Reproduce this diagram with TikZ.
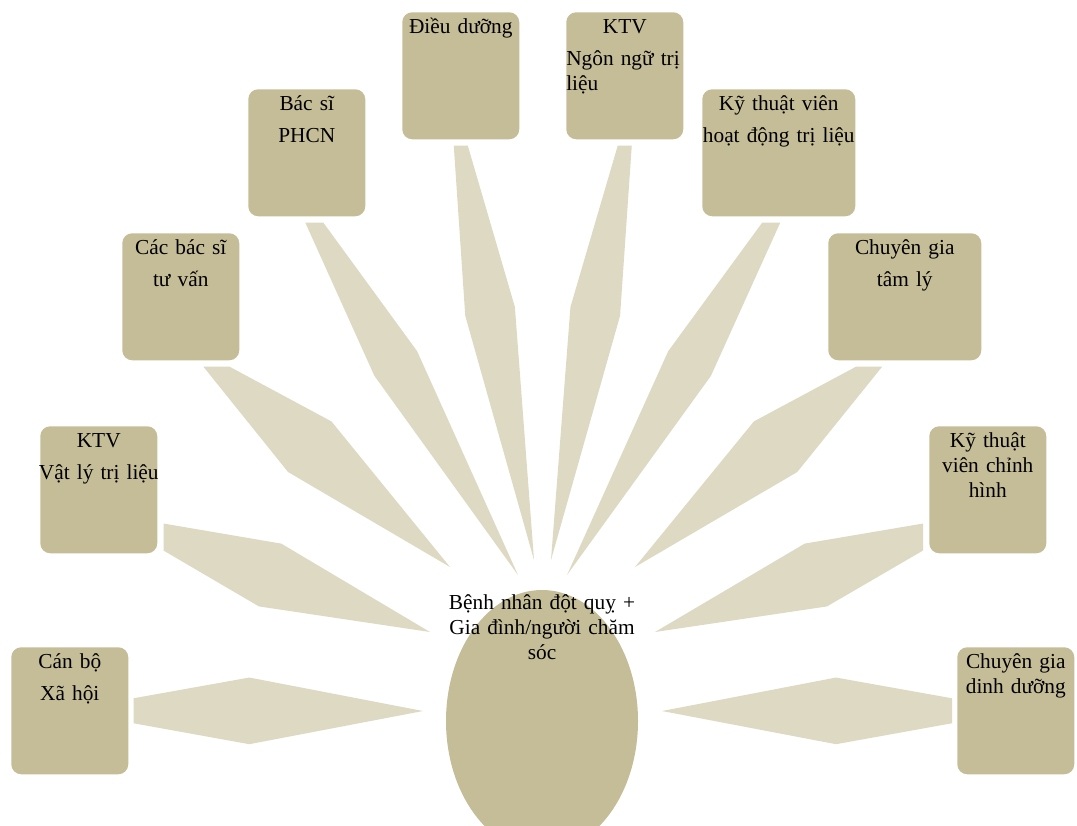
\documentclass[tikz,border=0pt]{standalone}
\usepackage{fontspec}
\setmainfont{Liberation Serif}
\usetikzlibrary{backgrounds,calc,shapes.geometric}

\definecolor{boxfill}{HTML}{C4BD97}
\definecolor{spokefill}{HTML}{DDD9C3}

% tapered band from a team box to the patient
\newcommand{\drawspoke}[4]{%
  \coordinate (#1-mid) at ($(#1-out)!0.4!(#1-in)$);
  \fill[spoke] ($(#1-out)+(#2,#3)$) -- ($(#1-mid)!#4!90:(#1-in)$) -- (#1-in)
    -- ($(#1-mid)!#4!-90:(#1-in)$) -- ($(#1-out)-(#2,#3)$) -- cycle;}

\begin{document}
\begin{tikzpicture}[
    x=0.75pt, y=-0.75pt,
    team/.style={fill=boxfill, rounded corners=7.5pt, anchor=north west, inner sep=0pt,
      text width=87.75pt, align=center, text height=15.75pt, text depth=79.5pt,
      font=\fontsize{16pt}{18.75pt}\selectfont},
    wideteam/.style={team, text width=114.75pt},
    patient/.style={ellipse, fill=boxfill, minimum width=144pt, minimum height=196.5pt, inner sep=0pt},
    patientlabel/.style={anchor=base, align=center, text width=150pt, inner sep=0pt,
      font=\fontsize{16pt}{18.75pt}\selectfont},
    spoke/.style={fill=spokefill}
  ]
    \clip (0,0) rectangle (1077,825);

    % patient in the middle
    \node[patient] (patient) at (542,721) {};
    \node[patientlabel] (patienttext) at (542,609) {Bệnh nhân đột quỵ +\\ Gia đình/người chăm\\ sóc};

    % left side
    \node[team] (cando) at (11,647) {Cán bộ\\[5.25pt] Xã hội};
    \node[team] (vltl) at (40,426) {KTV\\[5.25pt] \makebox[\linewidth][c]{Vật lý trị liệu}};
    \node[team] (tuvan) at (122,233) {Các bác sĩ\\[5.25pt] tư vấn};
    \node[team] (phcn) at (248,89) {Bác sĩ\\[5.25pt] PHCN};
    \node[team] (dieuduong) at (402,12) {Điều dưỡng};
    % right side
    \node[team] (ngonngu) at (566,12) {KTV\\[5.25pt] \makebox[\linewidth][s]{Ngôn ngữ trị}\\ \makebox[\linewidth][l]{liệu}};
    \node[wideteam] (hoatdong) at (702,89) {Kỹ thuật viên\\[5.25pt] hoạt động trị liệu};
    \node[wideteam] (tamly) at (828,233) {Chuyên gia\\[5.25pt] tâm lý};
    \node[team] (chinhhinh) at (929,426) {Kỹ thuật\\ viên chỉnh\\ hình};
    \node[team] (dinhduong) at (957,647) {Chuyên gia\\ dinh dưỡng};

    % band ends
    \coordinate (cando-out) at ([shift={(5,0)}]cando.east);
    \coordinate (vltl-out) at ([shift={(6,-16.5)}]vltl.south east);
    \coordinate (tuvan-out) at ([shift={(35.5,6)}]tuvan.south);
    \coordinate (phcn-out) at ([shift={(7.5,6)}]phcn.south);
    \coordinate (dieuduong-out) at ([shift={(0,6)}]dieuduong.south);
    \coordinate (ngonngu-out) at ([shift={(0,6)}]ngonngu.south);
    \coordinate (hoatdong-out) at ([shift={(-7.5,6)}]hoatdong.south);
    \coordinate (tamly-out) at ([shift={(-35.5,6)}]tamly.south);
    \coordinate (chinhhinh-out) at ([shift={(-6,-16.5)}]chinhhinh.south west);
    \coordinate (dinhduong-out) at ([shift={(-5,0)}]dinhduong.west);

    \coordinate (cando-in) at (423,711);
    \coordinate (vltl-in) at (430,632);
    \coordinate (tuvan-in) at (450,567);
    \coordinate (phcn-in) at (518,575);
    \coordinate (dieuduong-in) at (534,560);
    \coordinate (ngonngu-in) at (551,560);
    \coordinate (hoatdong-in) at (567,575);
    \coordinate (tamly-in) at (635,567);
    \coordinate (chinhhinh-in) at (655,632);
    \coordinate (dinhduong-in) at (662,711);

    \begin{pgfonlayer}{background}
      \foreach \who/\fx/\fy/\wide in {cando/0/-12.5/25pt, vltl/0/-13.5/25pt,
          tuvan/13/0/25pt, phcn/9/0/18.5pt, dieuduong/7/0/18.9pt,
          ngonngu/7/0/18.9pt, hoatdong/9/0/18.5pt, tamly/13/0/25pt,
          chinhhinh/0/13.5/25pt, dinhduong/0/12.5/25pt}
        {\drawspoke{\who}{\fx}{\fy}{\wide}}
    \end{pgfonlayer}
  \end{tikzpicture}
\end{document}
